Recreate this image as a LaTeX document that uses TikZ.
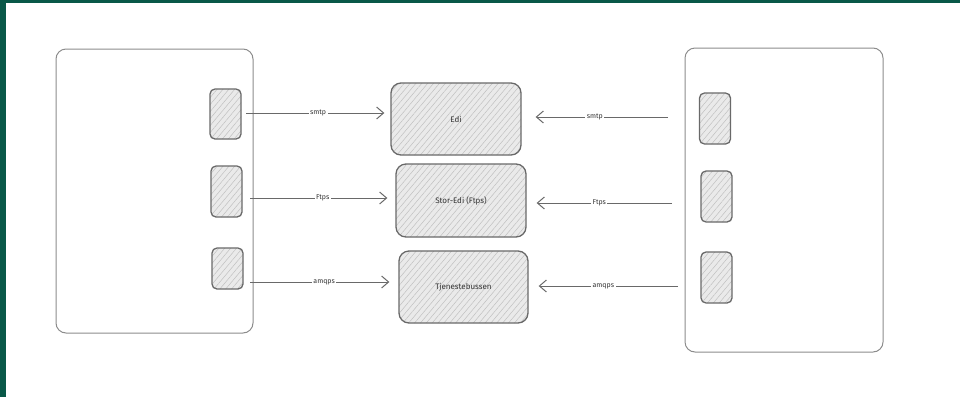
\documentclass[tikz,border=0pt]{standalone}
\usepackage{fontspec}
\setmainfont{Fira Sans}
\usetikzlibrary{arrows.meta,patterns.meta}
\definecolor{frame}{RGB}{9,88,72}
\definecolor{stroke}{RGB}{105,105,105}
\definecolor{softstroke}{RGB}{140,140,140}
\definecolor{boxfill}{RGB}{234,234,234}
\definecolor{hatch}{RGB}{192,192,192}
\begin{document}
\begin{tikzpicture}[x=1pt,y=-1pt,
  system/.style={draw=softstroke,line width=1pt,rounded corners=10pt,
    inner sep=0pt},
  hatched/.style={preaction={fill=boxfill},
    pattern={Lines[angle=50,distance=4.5pt,line width=0.5pt]},pattern color=hatch},
  port/.style={draw=stroke,line width=1.3pt,rounded corners=5pt,inner sep=0pt,
    hatched,minimum width=31pt},
  hub/.style={draw=stroke,line width=1.3pt,rounded corners=10pt,inner sep=0pt,
    hatched,font=\fontsize{8}{10}\selectfont,text=black!80},
  flow/.style={draw=stroke,line width=1pt,
    -{Straight Barb[length=7pt,width=12pt,line width=1pt]}},
  proto/.style={fill=white,inner sep=1.5pt,font=\fontsize{7}{8}\selectfont,
    text=black!80}]
\useasboundingbox (0,0) rectangle (960,397);
% dark frame on the left and top edges
\fill[frame] (0,0) rectangle (6,397);
\fill[frame] (0,0) rectangle (960,3);

% the two systems
\node[system,minimum width=197pt,minimum height=284pt] (sysL) at (154.5,191) {};
\node[system,minimum width=198pt,minimum height=304pt] (sysR) at (784,200) {};

% ports of the left system
\node[port,minimum height=50pt] (lp1) at (225.5,114) {};
\node[port,minimum height=51pt] (lp2) at (226.5,191.5) {};
\node[port,minimum height=41pt] (lp3) at (227.5,268.5) {};

% ports of the right system
\node[port,minimum height=51pt] (rp1) at (715,118.5) {};
\node[port,minimum height=51pt] (rp2) at (716.5,196.5) {};
\node[port,minimum height=51pt] (rp3) at (716.5,277.5) {};

% integration channels in the middle
\node[hub,minimum width=130pt,minimum height=72pt] (edi) at (456,119) {Edi};
\node[hub,minimum width=130pt,minimum height=73pt] (stor) at (461,200.5) {Stor-Edi (Ftps)};
\node[hub,minimum width=129pt,minimum height=72pt] (tjen) at (463.5,287) {Tjenestebussen};

% start points of the connectors
\coordinate (l1) at (246,113);
\coordinate (l2) at (250,198);
\coordinate (l3) at (250,282);
\coordinate (r1) at (668,117);
\coordinate (r2) at (672,203);
\coordinate (r3) at (678,286);

% left system to channels
\draw[flow,shorten >=6pt] (l1) -- node[proto] {smtp} (l1 -| edi.west);
\draw[flow,shorten >=8pt] (l2) -- node[proto] {Ftps} (l2 -| stor.west);
\draw[flow,shorten >=9pt] (l3) -- node[proto] {amqps} (l3 -| tjen.west);

% right system to channels
\draw[flow,shorten >=14pt] (r1) -- node[proto] {smtp} (r1 -| edi.east);
\draw[flow,shorten >=10pt] (r2) -- node[proto] {Ftps} (r2 -| stor.east);
\draw[flow,shorten >=10pt] (r3) -- node[proto] {amqps} (r3 -| tjen.east);
\end{tikzpicture}
\end{document}
